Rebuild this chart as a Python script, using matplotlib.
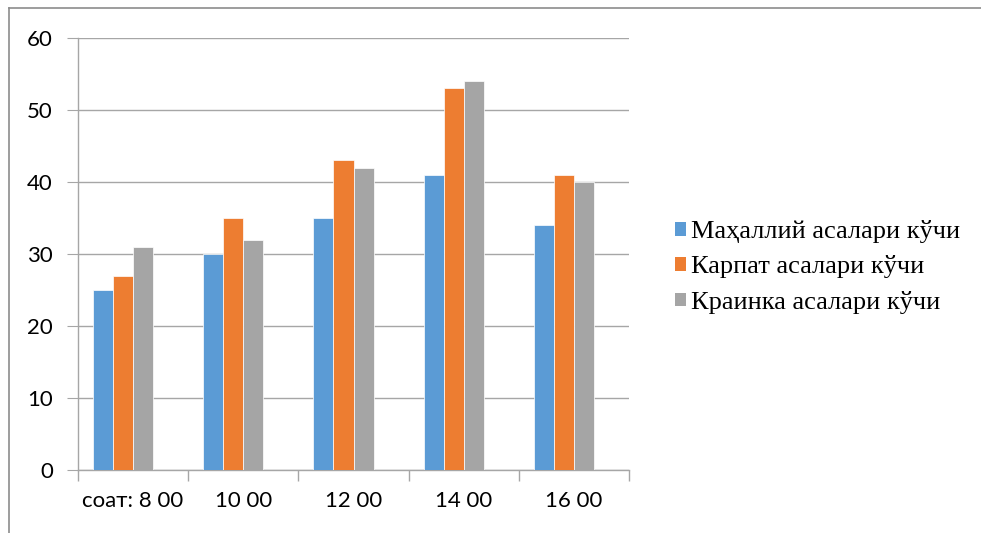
import matplotlib
matplotlib.use("Agg")
import matplotlib.pyplot as plt
from matplotlib.lines import Line2D
from matplotlib.patches import Patch
import numpy as np

categories = ["соат: 8 00", "10 00", "12 00", "14 00", "16 00"]
series_names = ["Маҳаллий асалари кўчи", "Карпат асалари кўчи", "Краинка асалари кўчи"]
local_vals = [25, 30, 35, 41, 34]
karpat_vals = [27, 35, 43, 53, 41]
krainka_vals = [31, 32, 42, 54, 40]
colors = ["#5B9BD5", "#ED7D31", "#A5A5A5"]
yticks = [0, 10, 20, 30, 40, 50, 60]

W, H = 981, 533
fig = plt.figure(figsize=(W / 100, H / 100), dpi=100)
ax = fig.add_axes([78 / W, (H - 470) / H, (629 - 78) / W, (470 - 38) / H])

x = np.arange(len(categories))
bw = 0.1815
# Excel layout: group of 4 slots (4th empty) centred on the category
for i, (vals, c) in enumerate(zip([local_vals, karpat_vals, krainka_vals], colors)):
    ax.bar(x + (i - 2) * bw, vals, width=bw, align="edge", color=c,
           edgecolor="white", linewidth=0.5, zorder=3)

ax.set_xlim(-0.5, len(categories) - 0.5)
ax.set_ylim(0, 60)
ax.set_yticks(yticks)
ax.set_yticklabels([str(v) for v in yticks], fontsize=16, family=["Lato", "DejaVu Sans"])
ax.yaxis.grid(True, color="#A6A6A6", linewidth=1, zorder=0)
ax.tick_params(axis="y", length=8, color="#A6A6A6", pad=10)

ax.set_xticks(x)
ax.set_xticklabels(categories, fontsize=16, family=["Lato", "DejaVu Sans"])
ax.tick_params(axis="x", length=0, pad=15)
ax.set_xticks(np.arange(len(categories) + 1) - 0.5, minor=True)
ax.tick_params(axis="x", which="minor", length=8, color="#A6A6A6", width=1)

for s in ["top", "right"]:
    ax.spines[s].set_visible(False)
for s in ["left", "bottom"]:
    ax.spines[s].set_color("#A6A6A6")
    ax.spines[s].set_linewidth(1)

handles = [Patch(facecolor=c, edgecolor="none") for c in colors]
fig.legend(handles, series_names, loc="center left", bbox_to_anchor=(651 / W, (H - 267) / H),
           frameon=False, prop={"family": "Liberation Serif", "size": 19},
           handlelength=0.42, handleheight=0.42, handletextpad=0.2, labelspacing=0.47)

fig.add_artist(Line2D([9 / W, 9 / W], [0, (H - 8) / H], color="#8C8C8C", linewidth=1.2))
fig.add_artist(Line2D([9 / W, 1], [(H - 8) / H, (H - 8) / H], color="#8C8C8C", linewidth=1.2))

fig.savefig("out.png", dpi=100)
